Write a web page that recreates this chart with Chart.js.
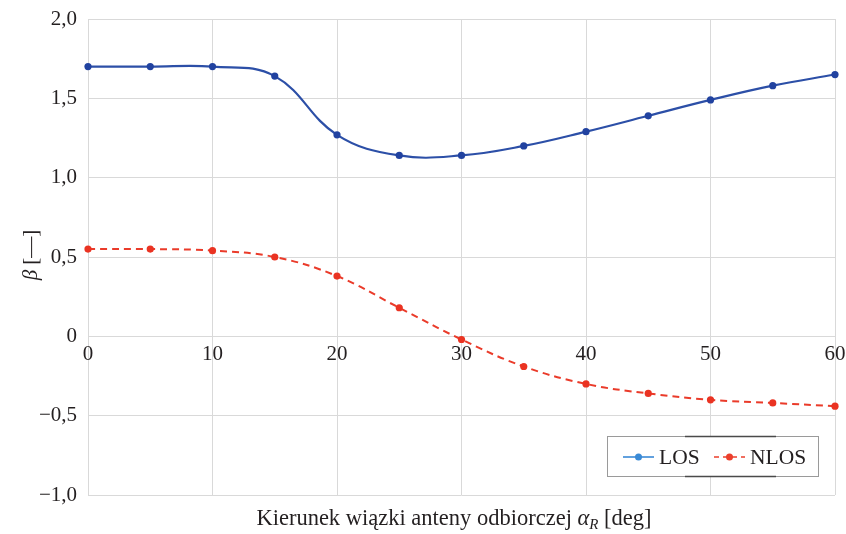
<!DOCTYPE html>
<html>
<head>
<meta charset="utf-8">
<script src="https://cdn.jsdelivr.net/npm/chart.js@4"></script>
<style>
  html, body { margin: 0; padding: 0; background: #fff; }
  #wrap { width: 846px; height: 534px; position: relative; }
</style>
</head>
<body>
<div id="wrap"><canvas id="betaChart"></canvas></div>
<script>
// beam direction of the receiving antenna [deg]
const angles = [0, 5, 10, 15, 20, 25, 30, 35, 40, 45, 50, 55, 60];
const losValues = [1.70, 1.70, 1.70, 1.64, 1.27, 1.14, 1.14, 1.20, 1.29, 1.39, 1.49, 1.58, 1.65];
const nlosValues = [0.55, 0.55, 0.54, 0.50, 0.38, 0.18, -0.02, -0.19, -0.30, -0.36, -0.40, -0.42, -0.44];
const xTickValues = [0, 10, 20, 30, 40, 50, 60];
const yTickValues = [-1, -0.5, 0, 0.5, 1, 1.5, 2];
const seriesNames = ['LOS', 'NLOS'];

const FONT = '"Liberation Serif", "Times New Roman", serif';
const GRID = '#d9d9d9';

function fmtTick(v) {
    if (v === 0) return '0';
    return v.toFixed(1).replace('.', ',').replace('-', '\u2212');
}

function toPoints(values) {
    return angles.map(function (a, i) { return { x: a, y: values[i] }; });
}

// axis titles and the boxed legend are drawn on top of the chart
const decorations = {
    id: 'decorations',
    afterDraw(chart) {
        const ctx = chart.ctx;
        ctx.save();
        ctx.fillStyle = '#231f20';
        ctx.textBaseline = 'alphabetic';

        // x axis title with italic subscripted alpha
        const parts = [
            { t: 'Kierunek wiązki anteny odbiorczej ', f: '22.5px ' + FONT, dy: 0 },
            { t: 'α', f: 'italic 22.5px ' + FONT, dy: 0 },
            { t: 'R', f: 'italic 15px ' + FONT, dy: 4 },
            { t: ' [deg]', f: '22.5px ' + FONT, dy: 0 }
        ];
        let total = 0;
        parts.forEach(function (p) { ctx.font = p.f; p.w = ctx.measureText(p.t).width; total += p.w; });
        let x = 454 - total / 2;
        ctx.textAlign = 'left';
        parts.forEach(function (p) {
            ctx.font = p.f;
            ctx.fillText(p.t, x, 525 + p.dy);
            x += p.w;
        });

        // y axis title
        ctx.save();
        ctx.translate(37, 255);
        ctx.rotate(-Math.PI / 2);
        ctx.font = 'italic 21px ' + FONT;
        const bw = ctx.measureText('β ').width;
        ctx.font = '21px ' + FONT;
        const rw = ctx.measureText('[—]').width;
        let tx = -(bw + rw) / 2;
        ctx.font = 'italic 21px ' + FONT;
        ctx.fillText('β ', tx, 0);
        ctx.font = '21px ' + FONT;
        ctx.fillText('[—]', tx + bw, 0);
        ctx.restore();

        // legend box
        const lx = 607, ly = 436, lw = 211, lh = 40;
        ctx.fillStyle = '#fff';
        ctx.fillRect(lx, ly, lw, lh);
        ctx.strokeStyle = '#9a9a9a';
        ctx.lineWidth = 1;
        ctx.strokeRect(lx + 0.5, ly + 0.5, lw, lh);
        ctx.strokeStyle = '#4a4a4a';
        ctx.lineWidth = 1.5;
        ctx.beginPath();
        ctx.moveTo(685, ly + 0.5); ctx.lineTo(776, ly + 0.5);
        ctx.moveTo(685, ly + lh + 0.5); ctx.lineTo(776, ly + lh + 0.5);
        ctx.stroke();

        const cy = ly + 21;
        const entries = [
            { name: seriesNames[0], color: '#3a8ad6', x0: 623, dash: [] },
            { name: seriesNames[1], color: '#ec3f2c', x0: 714, dash: [5, 4] }
        ];
        entries.forEach(function (e) {
            ctx.strokeStyle = e.color;
            ctx.lineWidth = 1.6;
            ctx.setLineDash(e.dash);
            ctx.beginPath();
            ctx.moveTo(e.x0, cy); ctx.lineTo(e.x0 + 31, cy);
            ctx.stroke();
            ctx.setLineDash([]);
            ctx.fillStyle = e.color;
            ctx.beginPath();
            ctx.arc(e.x0 + 15.5, cy, 3.5, 0, Math.PI * 2);
            ctx.fill();
            ctx.fillStyle = '#231f20';
            ctx.font = '21.5px ' + FONT;
            ctx.textBaseline = 'middle';
            ctx.fillText(e.name, e.x0 + 36, cy + 1);
        });
        ctx.restore();
    }
};

new Chart(document.getElementById('betaChart'), {
    type: 'line',
    data: {
        datasets: [
            {
                label: seriesNames[0],
                data: toPoints(losValues),
                borderColor: '#2c4fa7',
                backgroundColor: '#2142a0',
                borderWidth: 2.2,
                pointRadius: 3.6,
                pointBorderWidth: 0,
                tension: 0.4,
                clip: false
            },
            {
                label: seriesNames[1],
                data: toPoints(nlosValues),
                borderColor: '#ea3b2a',
                backgroundColor: '#ea3322',
                borderWidth: 2,
                borderDash: [7, 5],
                pointRadius: 3.6,
                pointBorderWidth: 0,
                tension: 0.4,
                clip: false
            }
        ]
    },
    options: {
        responsive: true,
        maintainAspectRatio: false,
        animation: false,
        layout: { padding: { left: 0, right: 11, top: 19, bottom: 39 } },
        plugins: {
            legend: { display: false },
            tooltip: { enabled: false }
        },
        scales: {
            x: {
                type: 'linear',
                position: { y: 0 },
                min: 0,
                max: 60,
                afterBuildTicks: function (scale) {
                    scale.ticks = xTickValues.map(function (v) { return { value: v }; });
                },
                afterFit: function (scale) { scale.paddingRight = 0; scale.paddingLeft = 0; },
                grid: { color: GRID, lineWidth: 1, drawTicks: false },
                border: { display: false },
                ticks: {
                    padding: 6,
                    color: '#231f20',
                    font: { family: FONT, size: 21 },
                    maxRotation: 0,
                    callback: function (v) { return String(v); }
                }
            },
            y: {
                min: -1,
                max: 2,
                afterBuildTicks: function (scale) {
                    scale.ticks = yTickValues.map(function (v) { return { value: v }; });
                },
                afterFit: function (scale) {
                    scale.width = 88;
                    scale.paddingTop = 0;
                    scale.paddingBottom = 0;
                },
                grid: { color: GRID, lineWidth: 1, drawTicks: false },
                border: { display: false },
                ticks: {
                    padding: 11,
                    color: '#231f20',
                    font: { family: FONT, size: 21 },
                    callback: fmtTick
                }
            }
        }
    },
    plugins: [decorations]
});
</script>
</body>
</html>
